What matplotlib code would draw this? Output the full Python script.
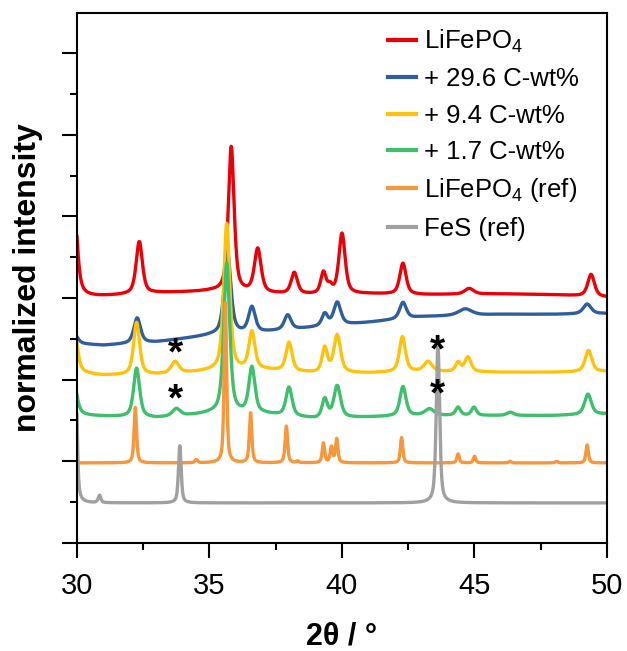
import numpy as np
import matplotlib
matplotlib.use("Agg")
import matplotlib.pyplot as plt

plt.rcParams['font.family'] = ['Liberation Sans', 'DejaVu Sans']
plt.rcParams['mathtext.default'] = 'regular'

# shared baseline nodes (2theta)
base_x = [30, 31, 33, 35, 37, 39, 41, 43, 46, 48, 50]

# LiFePO4
red_base = [3.0, 3.02, 3.06, 3.08, 3.05, 3.04, 3.05, 3.04, 3.05, 3.04, 3.01]
red_pos = [29.85, 32.35, 35.82, 36.82, 38.2, 39.3, 39.55, 40.0, 42.3, 44.8, 49.4]
red_h = [1.5, 0.64, 1.78, 0.54, 0.26, 0.26, 0.08, 0.74, 0.38, 0.07, 0.27]
red_w = [0.3, 0.28, 0.26, 0.3, 0.28, 0.24, 0.2, 0.28, 0.28, 0.4, 0.3]

# + 29.6 C-wt%
blue_base = [2.44, 2.42, 2.46, 2.54, 2.58, 2.64, 2.7, 2.77, 2.8, 2.8, 2.81]
blue_pos = [29.9, 32.27, 35.68, 36.6, 37.95, 39.35, 39.82, 42.3, 44.65, 49.25]
blue_h = [0.12, 0.31, 1.0, 0.31, 0.18, 0.15, 0.28, 0.2, 0.08, 0.12]
blue_w = [0.3, 0.3, 0.3, 0.3, 0.3, 0.26, 0.32, 0.3, 0.6, 0.35]

# + 9.4 C-wt%
yellow_base = [2.07, 2.05, 2.06, 2.1, 2.12, 2.08, 2.08, 2.1, 2.09, 2.09, 2.1]
yellow_pos = [29.85, 32.25, 33.7, 35.65, 36.6, 38.0, 39.35, 39.82, 42.28, 43.25, 44.38, 44.75, 49.3]
yellow_h = [0.75, 0.64, 0.14, 1.8, 0.46, 0.35, 0.3, 0.46, 0.43, 0.12, 0.11, 0.18, 0.26]
yellow_w = [0.3, 0.27, 0.35, 0.27, 0.27, 0.27, 0.24, 0.3, 0.27, 0.35, 0.22, 0.28, 0.3]

# + 1.7 C-wt%
green_base = [1.56, 1.55, 1.53, 1.58, 1.58, 1.52, 1.54, 1.56, 1.56, 1.56, 1.58]
green_pos = [29.85, 32.25, 33.75, 35.65, 36.6, 38.0, 39.35, 39.82, 42.3, 43.3, 44.38, 44.98, 46.35, 49.28]
green_h = [0.5, 0.6, 0.09, 1.84, 0.56, 0.35, 0.23, 0.39, 0.36, 0.08, 0.1, 0.1, 0.04, 0.25]
green_w = [0.3, 0.27, 0.35, 0.27, 0.27, 0.27, 0.24, 0.3, 0.27, 0.4, 0.22, 0.22, 0.3, 0.3]

# LiFePO4 (ref)
orange_base = [0.98] * len(base_x)
orange_pos = [32.2, 34.5, 35.6, 36.55, 37.9, 38.33, 39.3, 39.6, 39.8, 42.25, 44.38, 45.0, 46.34, 48.1, 49.25]
orange_h = [0.68, 0.04, 1.96, 0.61, 0.45, 0.02, 0.24, 0.19, 0.29, 0.31, 0.11, 0.08, 0.02, 0.02, 0.22]
orange_w = [0.11] * len(orange_pos)

# FeS (ref)
gray_base = [0.49] * len(base_x)
gray_pos = [29.95, 30.85, 33.88, 43.62]
gray_h = [1.8, 0.09, 0.7, 1.95]
gray_w = [0.12, 0.12, 0.12, 0.15]

labels = ['LiFePO$_4$', '+ 29.6 C-wt%', '+ 9.4 C-wt%', '+ 1.7 C-wt%',
          'LiFePO$_4$ (ref)', 'FeS (ref)']
colors = ['#ec0008', '#2f5e9c', '#ffc20a', '#3dbf6c', '#f7963a', '#a0a0a0']

star_x = [33.7, 33.7, 43.6, 43.6]
star_y = [2.31, 1.74, 2.35, 1.8]


def pattern(x, base, pos, h, w, eta=0.6):
    y = np.interp(x, base_x, base)
    for c, a, f in zip(pos, h, w):
        d = (x - c) / f
        y += a * (eta / (1 + 4 * d**2) + (1 - eta) * np.exp(-4 * np.log(2) * d**2))
    return y


x = np.linspace(30, 50, 4001)
series = [
    (red_base, red_pos, red_h, red_w),
    (blue_base, blue_pos, blue_h, blue_w),
    (yellow_base, yellow_pos, yellow_h, yellow_w),
    (green_base, green_pos, green_h, green_w),
    (orange_base, orange_pos, orange_h, orange_w),
    (gray_base, gray_pos, gray_h, gray_w),
]

fig = plt.figure(figsize=(6.27, 6.51), dpi=100)
ax = fig.add_axes([0.1228, 0.166, 0.8453, 0.814])

for (b, p, h, w), lab, col in zip(series, labels, colors):
    ax.plot(x, pattern(x, b, p, h, w), color=col, lw=2.4, label=lab)

for sx, sy in zip(star_x, star_y):
    ax.text(sx, sy, '*', fontsize=28, fontweight='bold', ha='center', va='center')

ax.set_xlim(30, 50)
ax.set_ylim(0, 6.49)
ax.set_xticks([30, 35, 40, 45, 50])
ax.set_xticks([32.5, 37.5, 42.5, 47.5], minor=True)
ax.set_yticks(np.arange(0, 7, 1))
ax.set_yticks(np.arange(0.5, 6.5, 1), minor=True)
ax.set_yticklabels([])
ax.tick_params(which='major', length=11, width=1.5, direction='out', labelsize=21, pad=10)
ax.tick_params(which='minor', length=5, width=1.5, direction='out')
for s in ax.spines.values():
    s.set_linewidth(1.5)

ax.set_xlabel('2θ / °', fontsize=22, fontweight='bold')
ax.xaxis.set_label_coords(0.5, -0.148)
ax.set_ylabel('normalized intensity', fontsize=23, fontweight='bold')
ax.yaxis.set_label_coords(-0.064, 0.5)

leg = ax.legend(loc='upper left', bbox_to_anchor=(0.587, 0.972), frameon=False,
                fontsize=18.5, handlelength=1.1, handletextpad=0.3,
                labelspacing=0.48, borderpad=0, borderaxespad=0)
for line in leg.get_lines():
    line.set_linewidth(3)

fig.savefig('out.png', dpi=100)
